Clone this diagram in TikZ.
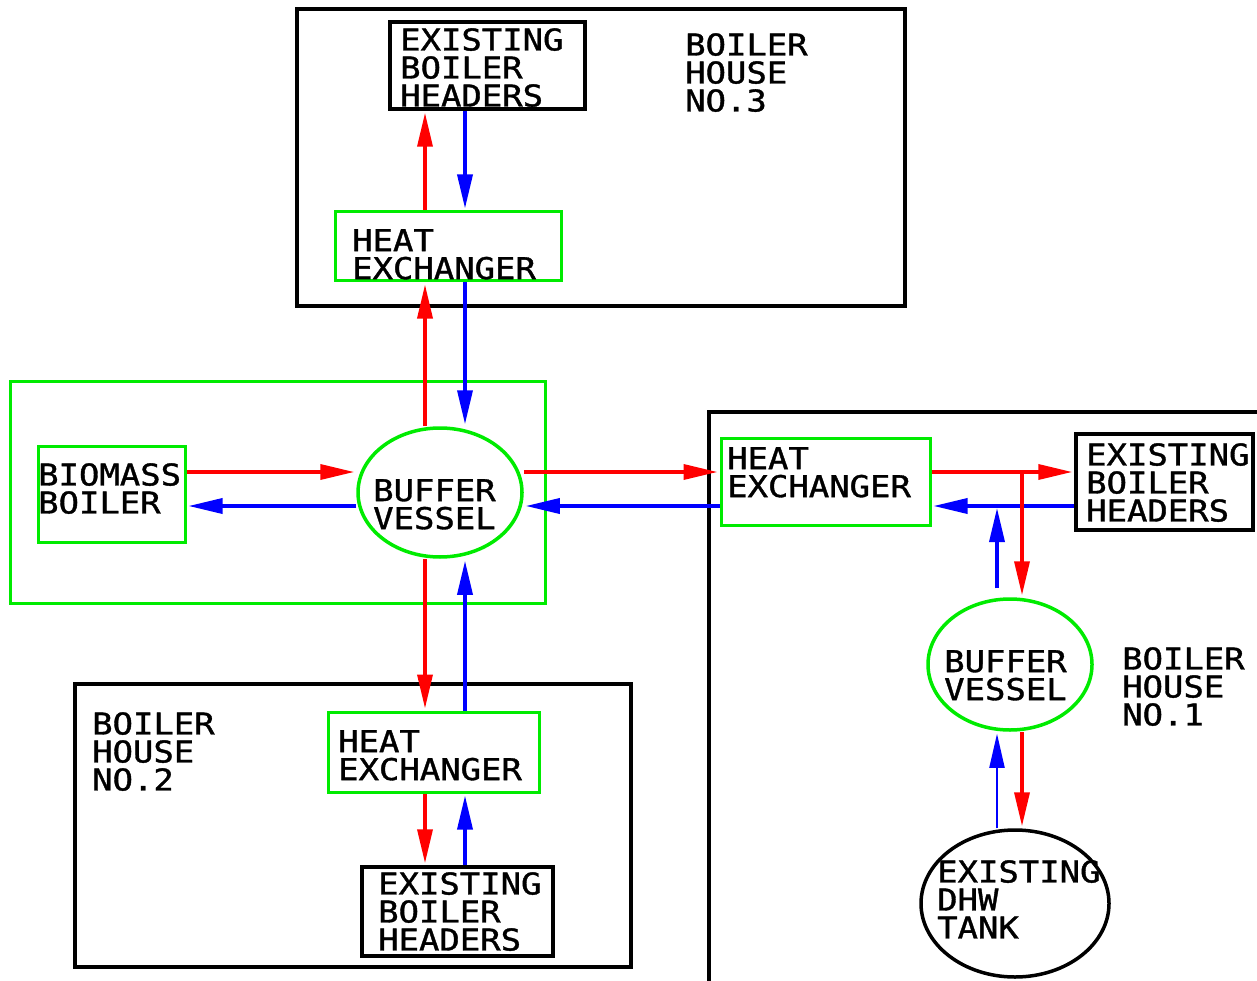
\documentclass[tikz,border=0pt]{standalone}
\usepackage{fontspec}
\usetikzlibrary{arrows.meta,positioning,shapes.geometric}
\newfontfamily\cadfont[FakeStretch=1.13,FakeBold=1.2]{DejaVu Sans Mono}
\definecolor{pipehot}{RGB}{255,0,0}
\definecolor{pipecold}{RGB}{0,0,255}
\definecolor{plantgreen}{RGB}{0,235,0}

\begin{document}
\begin{tikzpicture}[x=1pt,y=-1pt,
  font=\cadfont\fontsize{30}{28}\selectfont,
  house/.style={draw,line width=3.5pt,inner sep=0pt},
  hdr/.style={draw,line width=3.5pt,inner sep=0pt},
  hx/.style={draw=plantgreen,line width=3pt,inner sep=0pt},
  vessel/.style={ellipse,draw=plantgreen,line width=3.5pt,inner sep=0pt},
  tank/.style={ellipse,draw,line width=3.5pt,inner sep=0pt},
  tag/.style={anchor=north west,inner sep=0pt,align=left},
  hot/.style={draw=pipehot,line width=3.5pt,-{Triangle[length=34pt,width=15pt]},shorten >=2pt},
  cold/.style={draw=pipecold,line width=3.5pt,-{Triangle[length=34pt,width=15pt]},shorten >=2pt}]
\useasboundingbox (0,0) rectangle (1257,981);

% pipe lanes
\coordinate (hotV)  at (425,0);
\coordinate (coldV) at (465,0);
\coordinate (hotH)  at (0,472);
\coordinate (coldH) at (0,506);
\coordinate (hotB)  at (1022,0);
\coordinate (coldB) at (997,0);

% boiler house no.3
\node[house,minimum width=608,minimum height=297] (bh3)  at (601,157.5) {};
\node[hdr,minimum width=195,minimum height=87]    (ebh3) at (487.5,65.5) {};
\node[hx,minimum width=226,minimum height=69]     (hx3)  at (448,246.5) {};

% biomass plant
\node[hx,minimum width=535,minimum height=222]    (site) at (277.5,492) {};
\node[hx,minimum width=147,minimum height=96]     (bio)  at (111.5,494) {};
\node[vessel,minimum width=164,minimum height=129] (bv)  at (440,492.5) {};

% boiler house no.1
\node[house,minimum width=556,minimum height=583] (bh1)  at (987,703.5) {};
\node[hx,minimum width=209,minimum height=87]     (hx1)  at (825.5,481.5) {};
\node[hdr,minimum width=177,minimum height=96]    (ebh1) at (1164.5,482) {};
\node[vessel,minimum width=164,minimum height=131] (bv1) at (1010,664.5) {};
\node[tank,minimum width=188,minimum height=147]  (dhw)  at (1015,903.5) {};

% boiler house no.2
\node[house,minimum width=556,minimum height=283] (bh2)  at (353,825.5) {};
\node[hx,minimum width=211,minimum height=80]     (hx2)  at (433.5,752) {};
\node[hdr,minimum width=191,minimum height=89]    (ebh2) at (457.5,911.5) {};

% flow and return
\draw[hot]  (bio.east |- hotH) -- (bv.west |- hotH);
\draw[cold] (bv.west |- coldH) -- (bio.east |- coldH);
\draw[hot]  (bv.east |- hotH) -- (hx1.west |- hotH);
\draw[cold] (hx1.west |- coldH) -- (bv.east |- coldH);
\draw[hot]  (bv.north -| hotV) -- (hx3.south -| hotV);
\draw[cold] (hx3.south -| coldV) -- (bv.north -| coldV);
\draw[hot]  (hx3.north -| hotV) -- (ebh3.south -| hotV);
\draw[cold] (ebh3.south -| coldV) -- (hx3.north -| coldV);
\draw[hot]  (bv.south -| hotV) -- (hx2.north -| hotV);
\draw[cold] (hx2.north -| coldV) -- (bv.south -| coldV);
\draw[hot]  (hx2.south -| hotV) -- (ebh2.north -| hotV);
\draw[cold] (ebh2.north -| coldV) -- (hx2.south -| coldV);
\draw[hot]  (hx1.east |- hotH) -- (ebh1.west |- hotH);
\draw[cold] (ebh1.west |- coldH) -- (hx1.east |- coldH);
\draw[hot]  (hotB |- hotH) -- (bv1.north -| hotB);
\draw[cold] ([yshift=9pt]bv1.north -| coldB) -- (coldB |- coldH);
\draw[cold,line width=2pt] (dhw.north -| coldB) -- (bv1.south -| coldB);
\draw[hot]  (bv1.south -| hotB) -- (dhw.north -| hotB);

% labels
\node[tag] (ebh3t) at (400,28)   {EXISTING\\BOILER\\HEADERS};
\node[tag] (bh3t)  at (685,33)   {BOILER\\HOUSE\\NO.3};
\node[tag] (hx3t)  at (352,229)  {HEAT\\EXCHANGER};
\node[tag] (biot)  at (38,463)   {BIOMASS\\BOILER};
\node[tag] (bvt)   at (373,479)  {BUFFER\\VESSEL};
\node[tag] (hx1t)  at (727,447)  {HEAT\\EXCHANGER};
\node[tag] (ebh1t) at (1086,443) {EXISTING\\BOILER\\HEADERS};
\node[tag] (bv1t)  at (944,650)  {BUFFER\\VESSEL};
\node[tag] (bh1t)  at (1122,647) {BOILER\\HOUSE\\NO.1};
\node[tag] (dhwt)  at (937,860)  {EXISTING\\DHW\\TANK};
\node[tag] (bh2t)  at (92,712)   {BOILER\\HOUSE\\NO.2};
\node[tag] (hx2t)  at (338,730)  {HEAT\\EXCHANGER};
\node[tag] (ebh2t) at (378,872)  {EXISTING\\BOILER\\HEADERS};
\end{tikzpicture}
\end{document}
